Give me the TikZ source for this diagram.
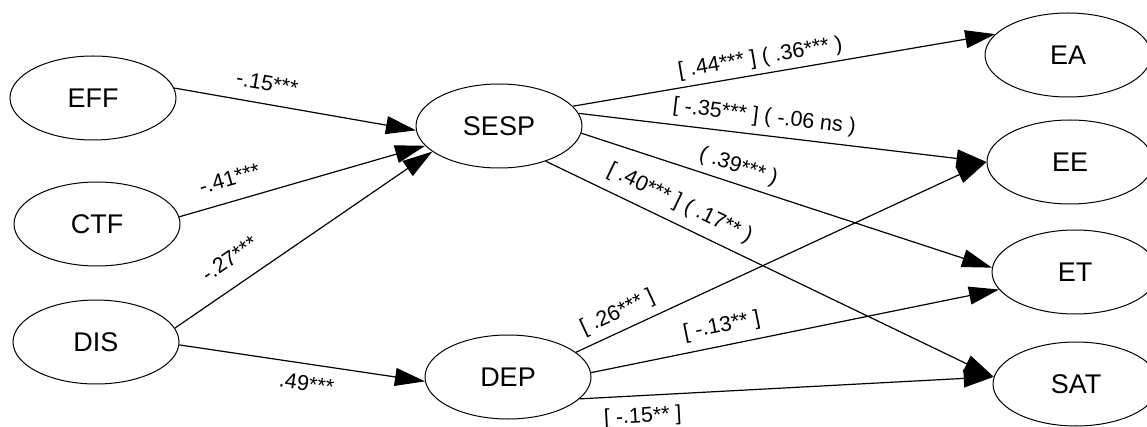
\documentclass[tikz,border=0pt]{standalone}
\usepackage{fontspec}
\setmainfont{Liberation Sans}
\usetikzlibrary{shapes.geometric,arrows.meta}
\tikzset{
  var/.style={ellipse, draw, line width=1pt, minimum width=166pt, minimum height=84pt, inner sep=0pt, font=\fontsize{27}{30}\selectfont},
  conn/.style={line width=1.2pt, -{Triangle[length=30pt,width=18pt]}},
  lab/.style={sloped, inner sep=0pt, text height=16pt, text depth=4.5pt, font=\fontsize{21.5}{24}\selectfont}
}
\begin{document}
\begin{tikzpicture}[x=1pt,y=-1pt]
\useasboundingbox (0,0) rectangle (1147,427);
\node[var] (eff)  at (93,98)   {EFF};
\node[var] (ctf)  at (97,224)  {CTF};
\node[var] (dis)  at (96,342)  {DIS};
\node[var] (sesp) at (499,126) {SESP};
\node[var] (dep)  at (508,377) {DEP};
\node[var] (ea)   at (1068,55) {EA};
\node[var] (ee)   at (1070,162){EE};
\node[var] (et)   at (1075,272){ET};
\node[var] (sat)  at (1076,384){SAT};

\draw[conn] (eff.7) -- node[lab, pos=0.37, above=8.5pt] {-.15***} (sesp.183);
\draw[conn] (ctf.5) -- node[lab, pos=0.23, above=10.5pt] {-.41***} (sesp.195);
\draw[conn] (dis.10) -- node[lab, pos=0.27, above=14pt] {-.27***} (sesp.201);
\draw[conn] (dis.-2) -- node[lab, pos=0.53, below=10.5pt] {.49***} (dep.183);

\draw[conn] (sesp.15) -- node[lab, pos=0.45, above=5pt] {[ .44*** ] ( .36*** )} (ea.164);
\draw[conn] (sesp.9) -- node[lab, pos=0.45, above=7.5pt] {[ -.35*** ] ( -.06 ns )} (ee.180);
\draw[conn] (sesp.-5) -- node[lab, pos=0.37, above=6pt] {( .39*** )} (et.177);
\draw[conn] (sesp.-37) -- node[lab, pos=0.28, above=9.5pt] {[ .40*** ] ( .17** )} (sat.175);

\draw[conn] (dep.20) -- node[lab, pos=0.12, above=7.5pt] {[ .26*** ]} (ee.180);
\draw[conn] (dep.3) -- node[lab, pos=0.33, above=8.5pt] {[ -.13** ]} (et.193);
\draw[conn] (dep.-17) -- node[lab, pos=0.15, below=10.5pt] {[ -.15** ]} (sat.175);
\end{tikzpicture}
\end{document}
